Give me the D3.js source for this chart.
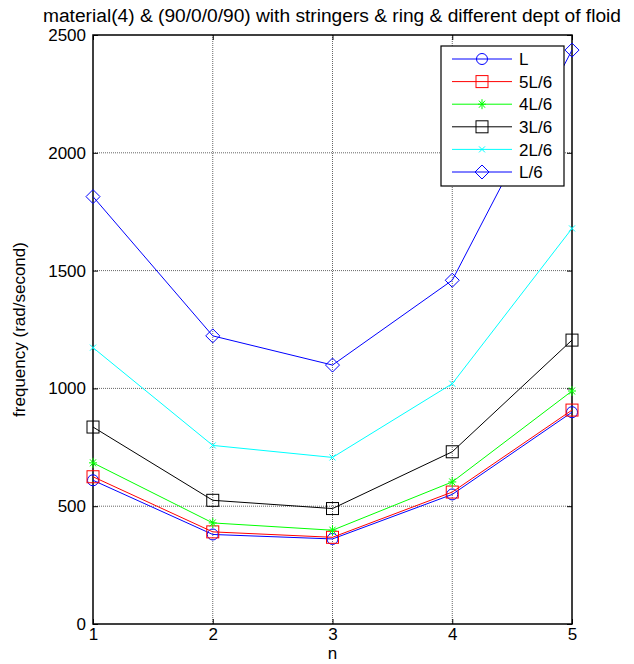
<!DOCTYPE html>
<html><head><meta charset="utf-8">
<script src="https://cdn.jsdelivr.net/npm/d3@7"></script>
<style>body{margin:0;background:#fff}text{font-family:"Liberation Sans",Arial,sans-serif;fill:#000}</style>
</head><body><svg id="c" width="634" height="664"></svg>
<script>
const nValues = [1, 2, 3, 4, 5];
const seriesNames = ["L", "5L/6", "4L/6", "3L/6", "2L/6", "L/6"];
const seriesL   = [610, 380, 361, 550, 899];
const series5L6 = [625, 391, 368, 560, 908];
const series4L6 = [684, 429, 398, 603, 989];
const series3L6 = [836, 525, 490, 731, 1205];
const series2L6 = [1173, 758, 707, 1020, 1679];
const seriesL6  = [1814, 1223, 1099, 1459, 2436];
const yTicks = [0, 500, 1000, 1500, 2000, 2500];
const xTicks = [1, 2, 3, 4, 5];
const titleText = "material(4) & (90/0/0/90) with stringers & ring & different dept of floid";

const seriesValues = [seriesL, series5L6, series4L6, series3L6, series2L6, seriesL6];
const colors = ["#0000ff", "#ff0000", "#00ff00", "#000000", "#00ffff", "#0000ff"];
const markers = ["circle", "square", "star", "square", "x", "diamond"];

const FS = 17;
const svg = d3.select("#c");
const L = 93, R = 572, T = 35, B = 624;
const x = d3.scaleLinear().domain([1, 5]).range([L, R]);
const y = d3.scaleLinear().domain([0, 2500]).range([B, T]);

// grid
const g = svg.append("g");
g.selectAll(".gx").data(xTicks.slice(1, -1)).enter().append("line")
  .attr("x1", d => x(d)).attr("x2", d => x(d)).attr("y1", T).attr("y2", B)
  .attr("stroke", "#666").attr("stroke-dasharray", "1,1").attr("stroke-width", 1);
g.selectAll(".gy").data(yTicks.slice(1, -1)).enter().append("line")
  .attr("y1", d => y(d)).attr("y2", d => y(d)).attr("x1", L).attr("x2", R)
  .attr("stroke", "#666").attr("stroke-dasharray", "1,1").attr("stroke-width", 1);

// axes
const ax = svg.append("g").attr("transform", `translate(0,${B})`)
  .call(d3.axisBottom(x).tickValues(xTicks).tickFormat(d3.format("d")).tickSizeInner(-5).tickSizeOuter(0).tickPadding(4));
const axT = svg.append("g").attr("transform", `translate(0,${T})`)
  .call(d3.axisTop(x).tickValues(xTicks).tickFormat("").tickSizeInner(-5).tickSizeOuter(0));
const ay = svg.append("g").attr("transform", `translate(${L},0)`)
  .call(d3.axisLeft(y).tickValues(yTicks).tickFormat(d3.format("d")).tickSizeInner(-5).tickSizeOuter(0).tickPadding(7));
const ayR = svg.append("g").attr("transform", `translate(${R},0)`)
  .call(d3.axisRight(y).tickValues(yTicks).tickFormat("").tickSizeInner(-5).tickSizeOuter(0));
[ax, axT, ay, ayR].forEach(a => { a.select(".domain").remove(); a.selectAll("line").attr("stroke", "#000"); });
[ax, ay].forEach(a => a.selectAll("text").attr("font-size", FS).style("font-family", '"Liberation Sans",Arial'));
svg.append("rect").attr("x", L).attr("y", T).attr("width", R - L).attr("height", B - T)
  .attr("fill", "none").attr("stroke", "#000").attr("stroke-width", 1.5);

function drawMarker(sel, type, color, cx, cy) {
  const s = sel.append("g").attr("transform", `translate(${cx},${cy})`)
    .attr("fill", "none").attr("stroke", color).attr("stroke-width", 1);
  if (type === "circle") s.append("circle").attr("r", 5.5);
  else if (type === "square") s.append("rect").attr("x", -6).attr("y", -6).attr("width", 12).attr("height", 12);
  else if (type === "diamond") s.append("path").attr("d", "M0,-7L7,0L0,7L-7,0Z");
  else if (type === "x") s.append("path").attr("d", "M-3,-3L3,3M-3,3L3,-3");
  else if (type === "star") s.append("path").attr("d", "M-4,0L4,0M0,-5L0,5M-3,-3.5L3,3.5M-3,3.5L3,-3.5");
}

const line = d3.line().x((d, i) => x(nValues[i])).y(d => y(d));
seriesValues.forEach((vals, k) => {
  svg.append("path").attr("d", line(vals)).attr("fill", "none")
    .attr("stroke", colors[k]).attr("stroke-width", 1);
  vals.forEach((v, i) => drawMarker(svg, markers[k], colors[k], x(nValues[i]), y(v)));
});

// legend
const lg = svg.append("g");
lg.append("rect").attr("x", 441).attr("y", 46).attr("width", 123).attr("height", 140)
  .attr("fill", "#fff").attr("stroke", "#000").attr("stroke-width", 1.2);
seriesNames.forEach((name, k) => {
  const yy = 59 + k * 22.6;
  lg.append("line").attr("x1", 452).attr("x2", 512).attr("y1", yy).attr("y2", yy)
    .attr("stroke", colors[k]).attr("stroke-width", 1);
  drawMarker(lg, markers[k], colors[k], 482, yy);
  lg.append("text").attr("x", 519).attr("y", yy).attr("dy", "0.36em")
    .attr("font-size", FS).text(name);
});

// titles
svg.append("text").attr("x", 332).attr("y", 22).attr("text-anchor", "middle")
  .attr("font-size", 18).attr("textLength", 578).attr("lengthAdjust", "spacingAndGlyphs").text(titleText);
svg.append("text").attr("x", (L + R) / 2).attr("y", 659).attr("text-anchor", "middle")
  .attr("font-size", FS).text("n");
svg.append("text").attr("transform", `translate(25,${(T + B) / 2}) rotate(-90)`)
  .attr("text-anchor", "middle").attr("font-size", FS).text("frequency (rad/second)");
</script></body></html>
